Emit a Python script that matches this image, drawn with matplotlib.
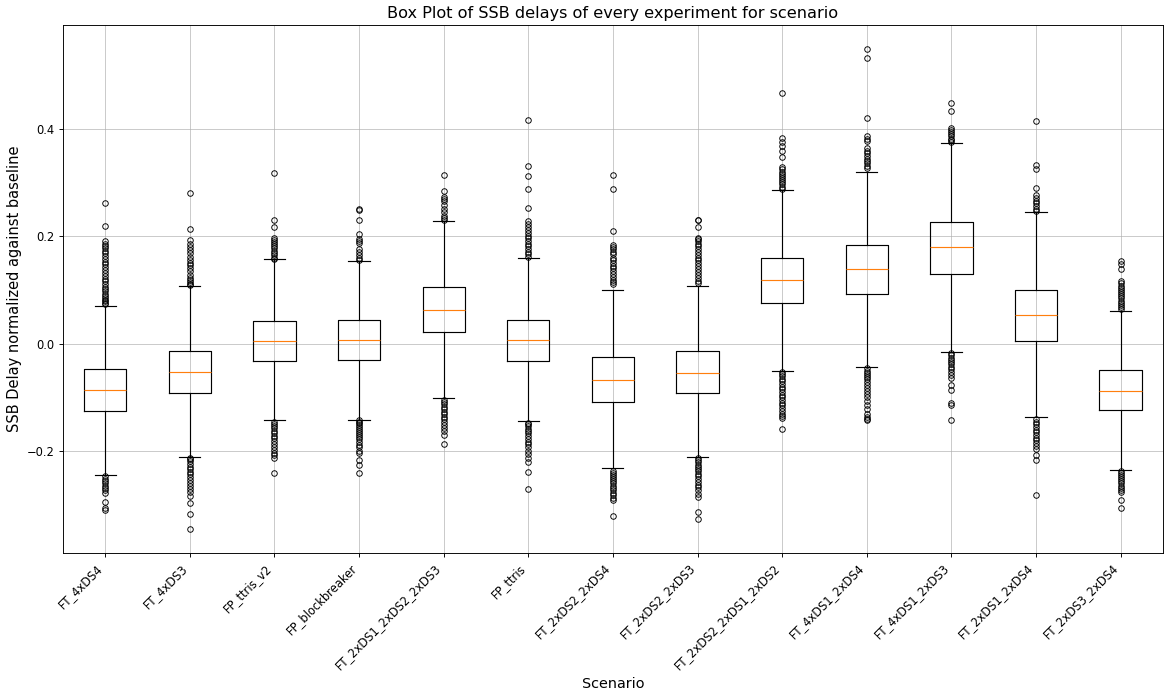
import matplotlib
matplotlib.use("Agg")
import matplotlib.pyplot as plt

# Szenarien (Reihenfolge wie im Bild)
szenarien = ["FT_4xDS4", "FT_4xDS3", "FP_ttris_v2", "FP_blockbreaker",
             "FT_2xDS1_2xDS2_2xDS3", "FP_ttris", "FT_2xDS2_2xDS4",
             "FT_2xDS2_2xDS3", "FT_2xDS2_2xDS1_2xDS2", "FT_4xDS1_2xDS4",
             "FT_4xDS1_2xDS3", "FT_2xDS1_2xDS4", "FT_2xDS3_2xDS4"]

# Kennwerte der Boxen
median = [-0.087, -0.052, 0.004, 0.006, 0.062, 0.006, -0.068,
          -0.054, 0.118, 0.138, 0.179, 0.054, -0.089]
q1 = [-0.125, -0.091, -0.033, -0.031, 0.021, -0.033, -0.108,
      -0.091, 0.075, 0.092, 0.129, 0.004, -0.124]
q3 = [-0.048, -0.013, 0.042, 0.044, 0.106, 0.044, -0.024,
      -0.013, 0.160, 0.184, 0.227, 0.100, -0.049]
whisker_unten = [-0.245, -0.210, -0.142, -0.142, -0.102, -0.143, -0.231,
                 -0.211, -0.051, -0.043, -0.015, -0.136, -0.235]
whisker_oben = [0.070, 0.107, 0.157, 0.153, 0.228, 0.160, 0.100,
                0.107, 0.285, 0.319, 0.373, 0.244, 0.061]

# Ausreisser oberhalb
aus_oben = [
    [0.262, 0.219, 0.190, 0.186, 0.182, 0.178, 0.172, 0.168, 0.163, 0.158, 0.152, 0.148,
     0.143, 0.137, 0.131, 0.126, 0.121, 0.116, 0.111, 0.106, 0.101, 0.097, 0.093, 0.089,
     0.085, 0.082, 0.079, 0.076, 0.073],
    [0.280, 0.214, 0.192, 0.186, 0.180, 0.175, 0.168, 0.162, 0.156, 0.150, 0.146, 0.141,
     0.135, 0.128, 0.122, 0.118, 0.114, 0.111, 0.109],
    [0.318, 0.230, 0.216, 0.197, 0.193, 0.189, 0.185, 0.181, 0.177, 0.172, 0.168, 0.164,
     0.160, 0.158],
    [0.251, 0.249, 0.230, 0.204, 0.195, 0.191, 0.187, 0.176, 0.170, 0.164, 0.160, 0.155],
    [0.314, 0.283, 0.273, 0.268, 0.265, 0.258, 0.250, 0.244, 0.238, 0.233, 0.230],
    [0.416, 0.330, 0.312, 0.287, 0.252, 0.228, 0.222, 0.216, 0.211, 0.206, 0.201, 0.196,
     0.191, 0.186, 0.181, 0.176, 0.171, 0.166, 0.162],
    [0.314, 0.287, 0.209, 0.184, 0.180, 0.176, 0.171, 0.166, 0.160, 0.155, 0.150, 0.145,
     0.140, 0.135, 0.129, 0.124, 0.119, 0.114, 0.110],
    [0.230, 0.229, 0.216, 0.197, 0.194, 0.190, 0.186, 0.181, 0.176, 0.170, 0.165, 0.160,
     0.155, 0.150, 0.144, 0.139, 0.133, 0.127, 0.122, 0.117, 0.112],
    [0.466, 0.383, 0.374, 0.367, 0.358, 0.347, 0.329, 0.324, 0.320, 0.316, 0.312, 0.308,
     0.304, 0.300, 0.296, 0.292, 0.288],
    [0.548, 0.531, 0.420, 0.386, 0.381, 0.376, 0.364, 0.359, 0.355, 0.348, 0.343, 0.339,
     0.335, 0.330, 0.326],
    [0.447, 0.432, 0.401, 0.397, 0.394, 0.390, 0.386, 0.381, 0.378, 0.375],
    [0.414, 0.332, 0.324, 0.290, 0.276, 0.271, 0.266, 0.261, 0.256, 0.251, 0.247],
    [0.154, 0.148, 0.139, 0.117, 0.112, 0.108, 0.104, 0.100, 0.096, 0.092, 0.088, 0.084,
     0.080, 0.076, 0.072, 0.068, 0.065],
]

# Ausreisser unterhalb
aus_unten = [
    [-0.247, -0.251, -0.255, -0.259, -0.264, -0.268, -0.272, -0.277, -0.294, -0.306, -0.310],
    [-0.212, -0.215, -0.219, -0.224, -0.229, -0.233, -0.238, -0.243, -0.248, -0.254, -0.259,
     -0.265, -0.270, -0.276, -0.284, -0.296, -0.316, -0.345],
    [-0.145, -0.149, -0.153, -0.157, -0.162, -0.166, -0.171, -0.176, -0.181, -0.186, -0.192,
     -0.197, -0.203, -0.208, -0.213, -0.240],
    [-0.142, -0.145, -0.148, -0.151, -0.155, -0.158, -0.162, -0.166, -0.170, -0.174, -0.178,
     -0.183, -0.188, -0.193, -0.199, -0.204, -0.217, -0.226, -0.241],
    [-0.104, -0.108, -0.113, -0.118, -0.122, -0.127, -0.131, -0.136, -0.141, -0.146, -0.151,
     -0.156, -0.162, -0.170, -0.186],
    [-0.147, -0.150, -0.154, -0.158, -0.163, -0.167, -0.172, -0.177, -0.182, -0.187, -0.193,
     -0.199, -0.206, -0.213, -0.220, -0.239, -0.271],
    [-0.236, -0.240, -0.244, -0.248, -0.252, -0.256, -0.260, -0.264, -0.268, -0.272, -0.277,
     -0.282, -0.287, -0.291, -0.321],
    [-0.213, -0.217, -0.221, -0.225, -0.229, -0.233, -0.237, -0.242, -0.247, -0.252, -0.257,
     -0.262, -0.267, -0.273, -0.279, -0.285, -0.313, -0.326],
    [-0.053, -0.057, -0.061, -0.066, -0.070, -0.075, -0.080, -0.085, -0.090, -0.095, -0.100,
     -0.105, -0.110, -0.115, -0.120, -0.125, -0.130, -0.135, -0.139, -0.158],
    [-0.046, -0.050, -0.054, -0.058, -0.062, -0.066, -0.071, -0.076, -0.082, -0.088, -0.094,
     -0.100, -0.106, -0.114, -0.122, -0.130, -0.136, -0.140, -0.142],
    [-0.018, -0.022, -0.026, -0.030, -0.034, -0.038, -0.043, -0.048, -0.053, -0.058, -0.063,
     -0.077, -0.086, -0.110, -0.115, -0.142],
    [-0.141, -0.145, -0.150, -0.155, -0.160, -0.165, -0.170, -0.175, -0.180, -0.185, -0.190,
     -0.195, -0.207, -0.217, -0.282],
    [-0.236, -0.240, -0.244, -0.248, -0.252, -0.256, -0.260, -0.264, -0.268, -0.272, -0.276,
     -0.290, -0.306],
]

stats = []
for i, name in enumerate(szenarien):
    stats.append(dict(label=name, med=median[i], q1=q1[i], q3=q3[i],
                      whislo=whisker_unten[i], whishi=whisker_oben[i],
                      fliers=aus_oben[i] + aus_unten[i]))

fig, ax = plt.subplots(figsize=(14, 8.36), dpi=83.15)
fig.subplots_adjust(left=0.054, right=0.999, top=0.964, bottom=0.204)

ax.bxp(stats, flierprops=dict(marker='o', markersize=4.8, markeredgewidth=0.8))
ax.grid(True, color='#b0b0b0', alpha=0.7)

ax.set_title("Box Plot of SSB delays of every experiment for scenario", fontsize=14)
ax.set_xlabel("Scenario", fontsize=12.5)
ax.set_ylabel("SSB Delay normalized against baseline", fontsize=12.7)
plt.setp(ax.get_xticklabels(), rotation=45, ha="right")

fig.savefig("out.png", dpi=83.15)
